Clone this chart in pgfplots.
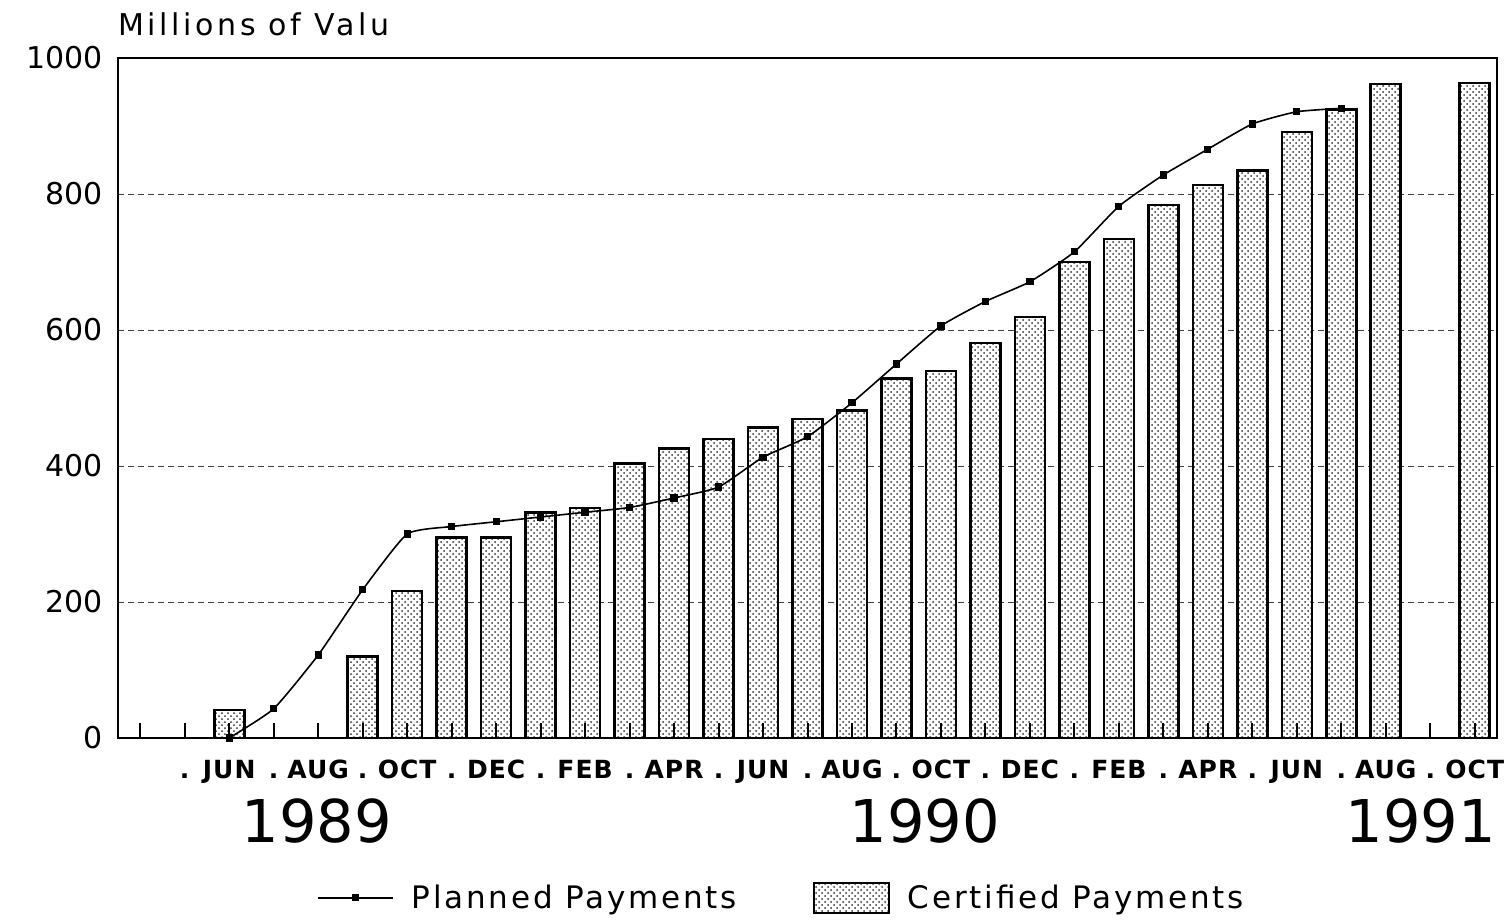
\documentclass[border=0pt]{standalone}
\usepackage{fontspec}
\setmainfont{DejaVu Sans}
\usepackage{pgfplots}
\pgfplotsset{compat=1.18}
\usetikzlibrary{patterns}

\pgfplotsset{
  barlegend/.style={legend image code/.code={\draw[##1] (0pt,-7.5pt) rectangle (37.5pt,7.5pt);}},
  linelegend/.style={legend image code/.code={\draw[##1, mark repeat=2, mark phase=2] plot coordinates {(0pt,0pt) (18.75pt,0pt) (37.5pt,0pt)};}},
  gridline/.style={black!75, thin, dash pattern=on 3pt off 2pt, forget plot},
}

\pgfplotstableread{
x y
2 41
5 120
6 216
7 295
8 295
9 332
10 338
11 404
12 426
13 440
14 457
15 469
16 482
17 529
18 540
19 581
20 619
21 700
22 734
23 784
24 813
25 835
26 891
27 924
28 962
30 963
}\certified

\pgfplotstableread{
x y
2 0
3 43
4 122
5 218
6 300
7 311
8 318
9 325
10 332
11 339
12 353
13 369
14 413
15 443
16 493
17 550
18 606
19 642
20 671
21 715
22 782
23 828
24 866
25 903
26 921
27 926
}\planned

\begin{document}
\begin{tikzpicture}
\begin{axis}[
  name=ax,
  axis on top,
  scale only axis,
  width=689.5pt, height=340pt,
  xmin=-0.5, xmax=30.5,
  ymin=0, ymax=1000,
  axis line style={line width=1pt},
  xtick={0,...,30},
  xticklabels={,.,JUN,.,AUG,.,OCT,.,DEC,.,FEB,.,APR,.,JUN,.,AUG,.,OCT,.,DEC,.,FEB,.,APR,.,JUN,.,AUG,.,OCT},
  xtick pos=lower,
  tick align=inside,
  major tick length=7.5pt,
  xtick style={line width=1pt, black},
  ytick={0,200,...,1000},
  ytick style={draw=none},
  /pgf/number format/assume math mode=true,
  /pgf/number format/1000 sep={},
  yticklabel style={font=\fontsize{15}{16}\selectfont, xshift=-4pt},
  xticklabel style={font=\fontsize{12.5}{14}\selectfont\bfseries\addfontfeature{LetterSpace=4},
    text height=9.5pt, text depth=0pt, anchor=north, yshift=-7pt},
  clip=false,
  legend columns=2,
  legend style={draw=none, at={(0.482,-0.235)}, anchor=center,
    font=\fontsize{15.5}{17}\selectfont\addfontfeature{LetterSpace=9},
    /tikz/every even column/.append style={column sep=36pt},
    /tikz/every odd column/.append style={column sep=7pt}},
]
\addplot[gridline] coordinates {(-0.5,200) (30.5,200)};
\addplot[gridline] coordinates {(-0.5,400) (30.5,400)};
\addplot[gridline] coordinates {(-0.5,600) (30.5,600)};
\addplot[gridline] coordinates {(-0.5,800) (30.5,800)};
\addplot[ybar, bar width=15pt, bar shift=0pt, draw=black, line width=1.3pt,
  fill=white, postaction={pattern=crosshatch dots, pattern color=black!80},
  forget plot] table[x=x,y=y]{\certified};
\addplot[black, line width=0.8pt, smooth, tension=0.3, mark=square*, mark size=1.4pt,
  forget plot] table[x=x,y=y]{\planned};

\addlegendimage{linelegend, black, line width=0.8pt, mark=square*, mark size=1.4pt}
\addlegendentry{Planned Payments}
\addlegendimage{barlegend, draw=black, line width=1pt, fill=white, postaction={pattern=crosshatch dots, pattern color=black!80}}
\addlegendentry{Certified Payments}

\node[anchor=base west, inner sep=0pt, font=\fontsize{15}{16}\selectfont\addfontfeature{LetterSpace=12}] at ([yshift=11.5pt]rel axis cs:0,1) {Millions of Valu};
\node[font=\fontsize{29.5}{30}\selectfont] at (axis cs:3.97,-122) {1989};
\node[font=\fontsize{29.5}{30}\selectfont] at (axis cs:17.64,-122) {1990};
\node[font=\fontsize{29.5}{30}\selectfont] at (axis cs:28.79,-122) {1991};
\end{axis}
\pgfresetboundingbox
\path ([xshift=-59pt,yshift=-92.5pt]ax.south west) rectangle ([xshift=4pt,yshift=29pt]ax.north east);
\end{tikzpicture}
\end{document}
